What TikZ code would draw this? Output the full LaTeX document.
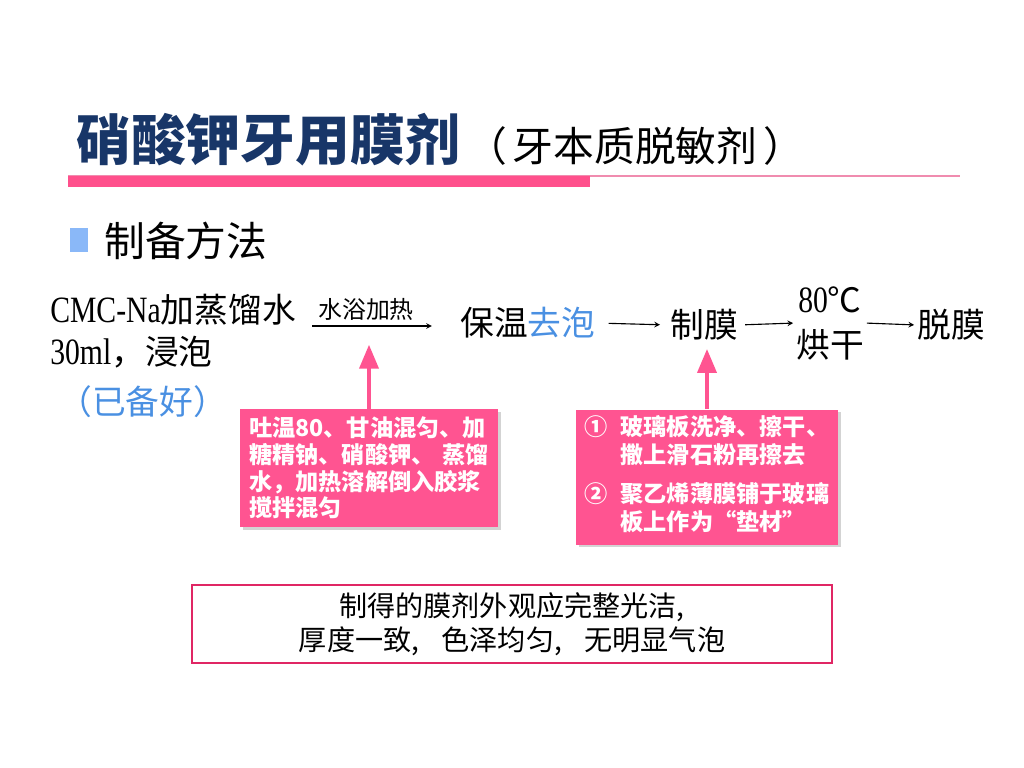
\documentclass[tikz,border=0pt]{standalone}
\usepackage{fontspec}
\usepackage{xcolor}
\usepackage{tikz}
\usetikzlibrary{arrows,positioning,shadows}
\setmainfont{Noto Sans CJK SC}
\newfontfamily\lat[FakeStretch=0.8,Scale=1.1]{Liberation Serif}
\definecolor{titleblue}{RGB}{24,54,104}
\definecolor{hotpink}{RGB}{255,84,145}
\definecolor{barpink}{RGB}{255,80,140}
\definecolor{linepink}{RGB}{240,140,175}
\definecolor{boxred}{RGB}{224,38,100}
\definecolor{softblue}{RGB}{74,144,226}
\definecolor{bulletblue}{RGB}{138,184,248}

\begin{document}
\begin{tikzpicture}[
        x=0.025cm, y=-0.025cm,
        step text/.style={inner sep=0pt, font=\fontsize{24}{30}\selectfont},
        pinkbox/.style={rectangle, fill=hotpink, text=white, inner sep=0pt, font=\fontsize{16.5}{19}\selectfont\bfseries,
            drop shadow={opacity=0.35, shadow xshift=2pt, shadow yshift=-2pt}},
        arrow/.style={->, >=stealth, line width=0.8pt},
        pinkarrow/.style={-{triangle 45}, line width=3pt, hotpink}
    ]
        \useasboundingbox (0,0) rectangle (1024,768);
        % Title and rule
        \node[anchor=west, inner sep=0pt, text=titleblue, font=\fontsize{39}{44}\selectfont\bfseries] (title) at (76,140) {硝酸钾牙用膜剂};
        \node[anchor=west, inner sep=0pt, font=\fontsize{29}{34}\selectfont] (subtitle) at ([xshift=4,yshift=-4]title.east) {（\hspace{4pt}牙本质脱敏剂\hspace{4pt}）};
        \draw[linepink, line width=0.8pt] (68,176) -- (960,176);
        \fill[barpink] (68,176) rectangle (590,187);
        % Bullet
        \fill[bulletblue] (70,228) rectangle (88,252);
        \node[anchor=west, inner sep=0pt, font=\fontsize{29}{34}\selectfont] (method) at (104,241) {制备方法};
        % Flow steps
        \node[step text, anchor=north west, align=left] (cmc) at (50,294) {{\lat CMC-Na}加蒸馏水\\{\lat 30ml}，浸泡};
        \node[step text, anchor=west, text=softblue] (ready) at (58,402) {（已备好）};
        \node[inner sep=0pt, font=\fontsize{17}{20}\selectfont] (heat) at (366,309) {水浴加热};
        \node[step text, anchor=west] (keep) at (460,323) {保温\textcolor{softblue}{去泡}};
        \node[step text] (film) at (704,325) {制膜};
        \node[step text, align=center] (dry) at (830,323) {{\lat 80}℃\\[2pt]烘干};
        \node[step text] (peel) at (951,325) {脱膜};
        % Flow connectors
        \coordinate (heatstart) at (312,326);
        \draw[arrow] (heatstart) -- ([xshift=-20]keep.west |- heatstart);
        \draw[arrow, shorten <=13pt*0.71, shorten >=10pt*0.71] (keep.east) -- (film.west);
        \draw[arrow, shorten <=5pt, shorten >=2pt] (film.east) -- (dry.west);
        \draw[arrow, shorten <=2pt, shorten >=2pt] (dry.east) -- (peel.west);
        % Pink notes
        \node[pinkbox, minimum width=258*0.025cm, minimum height=118*0.025cm, text width=240*0.025cm, align=left] (mixbox) at (369,468)
            {吐温80、甘油混匀、加\\糖精钠、硝酸钾、 蒸馏\\水，加热溶解倒入胶浆\\搅拌混匀};
        \node[pinkbox, minimum width=262*0.025cm, minimum height=135*0.025cm] (platebox) at (707,477)
            {\begin{tabular}{@{}l@{\hspace{9pt}}l@{}}
              ① & 玻璃板洗净、擦干、\\
                & 撒上滑石粉再擦去\\[8pt]
              ② & 聚乙烯薄膜铺于玻璃\\
                & 板上作为“垫材”
            \end{tabular}};
        \coordinate (heattip) at (mixbox.north |- 0,345);
        \draw[pinkarrow] (mixbox.north) -- (heattip);
        \draw[pinkarrow, shorten >=6pt] (platebox.north) -- (platebox.north |- film.south);
        % Result box
        \node[draw=boxred, line width=1.8pt, fill=white, minimum width=640*0.025cm, minimum height=78*0.025cm,
            align=center, font=\fontsize{20}{24}\selectfont] (result) at (512,624)
            {制得的膜剂外观应完整光洁,\\厚度一致,\hspace{0.8em}色泽均匀,\hspace{0.8em}无明显气泡};
    \end{tikzpicture}
\end{document}
